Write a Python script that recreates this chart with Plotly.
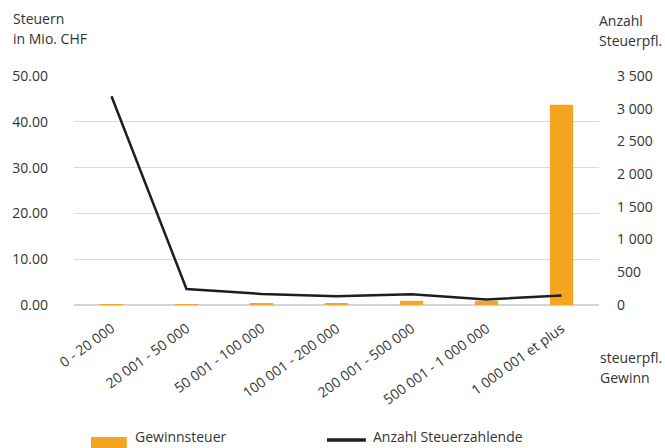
import plotly.graph_objects as go

# Profit brackets (taxable profit in CHF)
categories = [
    "0 - 20 000",
    "20 001 - 50 000",
    "50 001 - 100 000",
    "100 001 - 200 000",
    "200 001 - 500 000",
    "500 001 - 1 000 000",
    "1 000 001 et plus",
]
# Profit tax per bracket, in million CHF
gewinnsteuer = [0.05, 0.1, 0.25, 0.35, 0.9, 0.9, 43.7]
# Number of taxpayers per bracket
anzahl = [3190, 245, 170, 135, 165, 85, 145]

left_ticks = [0, 10, 20, 30, 40, 50]
right_ticks = [0, 500, 1000, 1500, 2000, 2500, 3000, 3500]

W, H = 665, 448
L, R, T, B = 73, 65, 76, 143
PW, PH = W - L - R, H - T - B

FONT = "Open Sans"
FS = 14
TXT = "#333333"
ORANGE = "#F6A520"
BLACK = "#1e1e1e"


def px(x):
    return (x - L) / PW


def py(y):
    return (H - B - y) / PH


fig = go.Figure()
fig.add_trace(go.Bar(
    x=categories, y=gewinnsteuer, name="Gewinnsteuer",
    marker=dict(color=ORANGE, line=dict(width=0)),
    width=0.31, yaxis="y", showlegend=False,
))
fig.add_trace(go.Scatter(
    x=categories, y=anzahl, name="Anzahl Steuerzahlende",
    mode="lines", line=dict(color=BLACK, width=2.5),
    yaxis="y2", showlegend=False,
))

fig.update_layout(
    width=W, height=H,
    margin=dict(l=L, r=R, t=T, b=B, pad=0),
    paper_bgcolor="white", plot_bgcolor="white",
    font=dict(family=FONT, size=FS, color=TXT),
    separators=". ",
    xaxis=dict(
        type="category", tickangle=-36, showgrid=False,
        showline=False, ticks="", zeroline=False,
        ticklabelstandoff=12,
        tickfont=dict(size=FS, color=TXT),
    ),
    yaxis=dict(
        range=[0, 50], tickvals=left_ticks, tickformat=".2f",
        showgrid=True, gridcolor="#d9d9d9", gridwidth=1,
        zeroline=True, zerolinecolor="#d4d4d4", zerolinewidth=2,
        showline=False, ticks="", ticklabelstandoff=25,
        tickfont=dict(size=FS, color=TXT),
    ),
    yaxis2=dict(
        range=[0, 3500], tickvals=right_ticks, tickformat=",d",
        overlaying="y", side="right", showgrid=False, zeroline=False,
        showline=False, ticks="", ticklabelstandoff=17,
        tickfont=dict(size=FS, color=TXT),
    ),
)

annotations = [
    ("Steuern", 10, 19),
    ("in Mio. CHF", 10, 38),
    ("Anzahl", 598, 20),
    ("Steuerpfl.", 598, 40),
    ("steuerpfl.", 599, 357),
    ("Gewinn", 599, 377),
]
for text, x, y in annotations:
    fig.add_annotation(
        text=text, x=px(x), y=py(y), xref="paper", yref="paper",
        xanchor="left", yanchor="middle", showarrow=False,
        font=dict(family=FONT, size=FS, color=TXT),
    )

# Legend entries along the bottom edge
for text, x in [("Gewinnsteuer", 132), ("Anzahl Steuerzahlende", 371)]:
    fig.add_annotation(
        text=text, x=px(x), y=py(448), xref="paper", yref="paper",
        xanchor="left", yanchor="bottom", showarrow=False,
        font=dict(family=FONT, size=FS, color=TXT),
    )
fig.add_shape(type="rect", xref="paper", yref="paper",
              x0=px(90), x1=px(126), y0=py(448), y1=py(437),
              fillcolor=ORANGE, line=dict(width=0))
fig.add_shape(type="line", xref="paper", yref="paper",
              x0=px(327), x1=px(366), y0=py(440), y1=py(440),
              line=dict(color=BLACK, width=3.5))

fig.write_html("out.html")
